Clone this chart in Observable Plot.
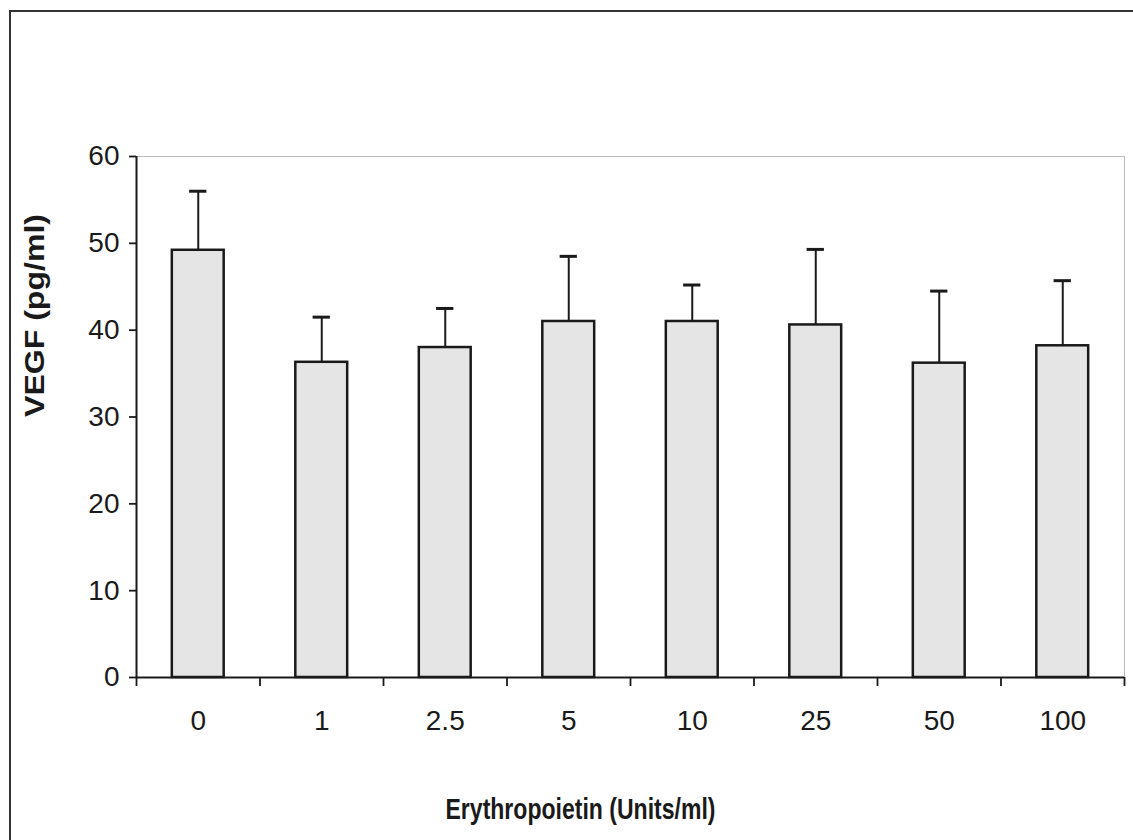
<!DOCTYPE html>
<html><head><meta charset="utf-8">
<script src="https://cdn.jsdelivr.net/npm/d3@7"></script>
<script src="https://cdn.jsdelivr.net/npm/@observablehq/plot@0.6"></script>
<style>
body{margin:0;background:#fff;overflow:hidden}
#chart{position:absolute;left:0;top:0}
#frame{position:absolute;left:9px;top:10px;width:1200px;height:900px;border-left:2px solid #333;border-top:2px solid #333;pointer-events:none}
</style></head><body>
<div id="chart"></div><div id="frame"></div>
<script>
const categories = ["0","1","2.5","5","10","25","50","100"];
const means = [49.2,36.3,38.0,41.0,41.0,40.6,36.2,38.2];
const upper = [56.0,41.5,42.5,48.5,45.2,49.3,44.5,45.7];
const yTicks = [0,10,20,30,40,50,60];
const yLabel = "VEGF (pg/ml)";
const xLabel = "Erythropoietin (Units/ml)";

const data = categories.map((c,i)=>({c, i, mean: means[i], up: upper[i]}));
const barHalf = 0.21, capHalf = 0.07;
const ink = "#1a1a1a";

const plot = Plot.plot({
  width:1133, height:840, marginLeft:136, marginRight:9, marginTop:156, marginBottom:163,
  style:{fontFamily:"'Liberation Sans', Arial, sans-serif", background:"transparent", color:ink},
  x:{domain:[0, categories.length]},
  y:{domain:[0,60]},
  marks:[
    Plot.frame({stroke:"#bbb", strokeWidth:1}),
    Plot.rect(data,{x1:d=>d.i+0.5-barHalf, x2:d=>d.i+0.5+barHalf, y1:0, y2:"mean", fill:"#e5e5e5", stroke:ink, strokeWidth:2.5}),
    Plot.ruleX(data,{x:d=>d.i+0.5, y1:"mean", y2:"up", stroke:ink, strokeWidth:2}),
    Plot.ruleY(data,{y:"up", x1:d=>d.i+0.5-capHalf, x2:d=>d.i+0.5+capHalf, stroke:ink, strokeWidth:3}),
    Plot.axisY({ticks:yTicks, tickSize:7, tickPadding:10, fontSize:28, label:null, stroke:ink, strokeWidth:1.8}),
    Plot.axisX({ticks:d3.range(0, categories.length+1), tickSize:9, tickFormat:()=>"", label:null, stroke:ink, strokeWidth:1.8}),
    Plot.axisX({ticks:categories.map((c,i)=>i+0.5), tickSize:0, tickPadding:33, fontSize:28, tickFormat:d=>categories[Math.floor(d)], label:null}),
    Plot.ruleX([0],{stroke:ink, strokeWidth:2}),
    Plot.ruleY([0],{stroke:ink, strokeWidth:2}),
    Plot.text([yLabel],{frameAnchor:"left", dx:-101, rotate:-90, fontWeight:"bold", fontSize:28, fill:ink}),
    Plot.text([xLabel],{frameAnchor:"bottom", dx:-50, dy:141, fontWeight:"bold", fontSize:29, fill:ink})
  ]
});
d3.select(plot).selectAll("text").each(function(){
  const t = this.textContent;
  if (t === xLabel) d3.select(this).attr("textLength",270).attr("lengthAdjust","spacingAndGlyphs");
  if (t === yLabel) d3.select(this).attr("textLength",203).attr("lengthAdjust","spacingAndGlyphs");
});
document.getElementById("chart").appendChild(plot);
</script>
</body></html>
